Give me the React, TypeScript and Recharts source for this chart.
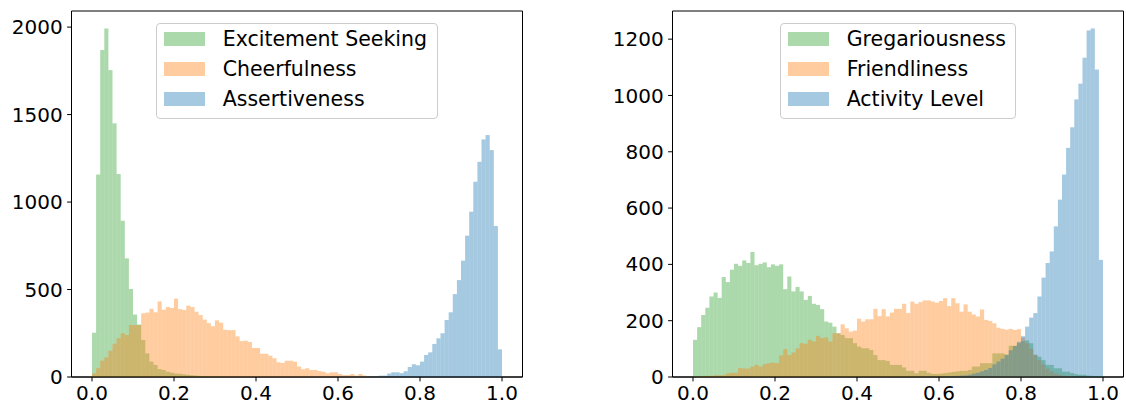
import { BarChart, Bar, XAxis, YAxis, ReferenceArea } from "recharts";

// ================= DATA =================
// 100 equal bins between 0 and 1 (bin centres)
const bins = Array.from({ length: 100 }, (_, i) => +((i + 0.5) / 100).toFixed(3));
const xTicks = [0, 0.2, 0.4, 0.6, 0.8, 1.0];
const leftYTicks = [0, 500, 1000, 1500, 2000];
const rightYTicks = [0, 200, 400, 600, 800, 1000, 1200];

const excitementSeeking = [
  253, 1157, 1869, 1992, 1754, 1450, 1160, 893, 678, 503,
  357, 300, 211, 135, 88, 69, 45, 40, 30, 25,
  20, 18, 15, 12, 10, 8, 6, 5, 4, 3,
  2, 2, 1, 1, 1, 0, 1, 0, 0, 0,
  0, 0, 0, 0, 0, 0, 0, 0, 0, 0,
  0, 0, 0, 0, 0, 0, 0, 0, 0, 0,
  0, 0, 0, 0, 0, 0, 0, 0, 0, 0,
  0, 0, 0, 0, 0, 0, 0, 0, 0, 0,
  0, 0, 0, 0, 0, 0, 0, 0, 0, 0,
  0, 0, 0, 0, 0, 0, 0, 0, 0, 0,
];

const cheerfulness = [
  20, 50, 93, 112, 150, 190, 222, 250, 240, 297,
  297, 297, 364, 368, 390, 370, 432, 385, 400, 395,
  448, 388, 383, 408, 400, 373, 354, 328, 308, 290,
  324, 310, 270, 268, 268, 232, 205, 208, 200, 166,
  166, 133, 133, 122, 107, 84, 80, 93, 93, 88,
  60, 44, 50, 40, 40, 34, 30, 21, 27, 27,
  17, 11, 11, 17, 8, 17, 8, 4, 2, 3,
  2, 1, 2, 1, 1, 0, 1, 0, 0, 0,
  0, 0, 0, 0, 0, 0, 0, 0, 0, 0,
  0, 0, 0, 0, 0, 0, 0, 0, 0, 0,
];

const assertiveness = [
  0, 0, 0, 0, 0, 0, 0, 0, 0, 0,
  0, 0, 0, 0, 0, 0, 0, 0, 0, 0,
  0, 0, 0, 0, 0, 0, 0, 0, 0, 0,
  0, 0, 0, 0, 0, 0, 0, 0, 0, 0,
  0, 0, 0, 0, 0, 0, 0, 0, 0, 0,
  0, 0, 0, 1, 0, 1, 1, 1, 1, 1,
  1, 1, 2, 2, 3, 3, 3, 4, 4, 5,
  8, 8, 20, 27, 27, 22, 33, 57, 73, 67,
  88, 126, 141, 189, 221, 250, 326, 370, 474, 554,
  665, 808, 945, 1116, 1230, 1358, 1383, 1297, 863, 158,
];

const gregariousness = [
  132, 177, 220, 246, 286, 300, 281, 355, 337, 381,
  402, 395, 414, 405, 444, 397, 402, 407, 390, 400,
  395, 400, 312, 357, 304, 320, 304, 274, 288, 260,
  256, 241, 197, 193, 179, 155, 149, 138, 138, 120,
  108, 102, 102, 96, 78, 60, 60, 57, 43, 43,
  43, 34, 22, 22, 13, 22, 22, 15, 11, 11,
  12, 14, 16, 18, 20, 22, 22, 25, 37, 37,
  49, 49, 49, 84, 84, 84, 80, 111, 111, 120,
  128, 130, 120, 78, 72, 60, 43, 43, 31, 31,
  19, 19, 14, 10, 8, 8, 5, 4, 3, 2,
];

const friendliness = [
  2, 2, 3, 4, 4, 6, 6, 6, 13, 15,
  15, 32, 30, 30, 37, 43, 37, 46, 49, 51,
  49, 77, 99, 78, 87, 102, 120, 118, 132, 126,
  146, 138, 141, 126, 155, 156, 187, 173, 161, 165,
  207, 197, 205, 205, 242, 216, 241, 215, 229, 242,
  242, 260, 227, 268, 260, 266, 272, 272, 268, 264,
  270, 280, 252, 280, 262, 232, 258, 232, 222, 215,
  240, 203, 199, 191, 175, 171, 168, 171, 167, 170,
  140, 120, 100, 80, 60, 45, 30, 20, 12, 8,
  5, 3, 2, 1, 1, 0, 0, 0, 0, 0,
];

const activityLevel = [
  0, 0, 0, 0, 0, 0, 0, 0, 0, 0,
  0, 0, 0, 0, 0, 0, 0, 0, 0, 0,
  0, 0, 0, 0, 0, 0, 0, 0, 0, 0,
  0, 0, 0, 0, 0, 0, 0, 0, 0, 0,
  0, 0, 0, 0, 0, 0, 0, 0, 0, 0,
  0, 0, 0, 0, 0, 1, 1, 1, 1, 2,
  2, 2, 3, 3, 4, 5, 6, 8, 12, 15,
  20, 25, 32, 45, 55, 65, 78, 95, 110, 125,
  145, 179, 211, 227, 286, 353, 405, 446, 535, 630,
  719, 814, 887, 986, 1042, 1134, 1231, 1238, 1092, 416,
];

// ================= COLORS =================
const GREEN = "#2ca02c";
const ORANGE = "#ff7f0e";
const BLUE = "#1f77b4";
const ALPHA = 0.4;

interface Series {
  key: string;
  name: string;
  color: string;
  values: number[];
}

const leftSeries: Series[] = [
  { key: "excitement", name: "Excitement Seeking", color: GREEN, values: excitementSeeking },
  { key: "cheerfulness", name: "Cheerfulness", color: ORANGE, values: cheerfulness },
  { key: "assertiveness", name: "Assertiveness", color: BLUE, values: assertiveness },
];

const rightSeries: Series[] = [
  { key: "gregariousness", name: "Gregariousness", color: GREEN, values: gregariousness },
  { key: "friendliness", name: "Friendliness", color: ORANGE, values: friendliness },
  { key: "activity", name: "Activity Level", color: BLUE, values: activityLevel },
];

const FONT = "'DejaVu Sans', sans-serif";
const tickStyle = { fill: "#000", fontSize: 20, fontFamily: FONT };

// recharts floors the bar width to whole pixels; stretch it back to the bin pitch
// eslint-disable-next-line
const HistBar = (props: any) => {
  const { x, y, width, height, fill, fillOpacity } = props;
  if (!height || height <= 0) return null;
  return (
    <rect x={x} y={y} width={width + 0.1} height={height} fill={fill} fillOpacity={fillOpacity} />
  );
};

// ================= LEGEND =================
function HistLegend({ series, left, width }: { series: Series[]; left: number; width: number }) {
  return (
    <div
      style={{
        position: "absolute",
        left,
        top: 22.7,
        width,
        height: 96,
        boxSizing: "border-box",
        border: "1px solid #cccccc",
        borderRadius: 4,
        background: "rgba(255,255,255,0.8)",
        fontFamily: FONT,
        fontSize: 20.5,
        color: "#000",
      }}
    >
      {series.map((s, i) => (
        <div
          key={s.key}
          style={{
            position: "absolute",
            left: 7,
            top: 0.5 + i * 30,
            height: 30,
            display: "flex",
            alignItems: "center",
            whiteSpace: "nowrap",
          }}
        >
          <span
            style={{
              display: "inline-block",
              width: 41,
              height: 14.3,
              background: s.color,
              opacity: ALPHA,
              marginRight: 17.7,
            }}
          />
          <span>{s.name}</span>
        </div>
      ))}
    </div>
  );
}

// ================= PANEL =================
interface PanelProps {
  series: Series[];
  yTicks: number[];
  yMax: number;
  left: number;
  width: number;
  yAxisWidth: number;
  rightMargin: number;
  legendLeft: number;
  legendWidth: number;
}

function HistPanel({
  series,
  yTicks,
  yMax,
  left,
  width,
  yAxisWidth,
  rightMargin,
  legendLeft,
  legendWidth,
}: PanelProps) {
  const data = bins.map((x, i) => {
    const row: Record<string, number> = { x };
    series.forEach((s) => {
      row[s.key] = s.values[i];
    });
    return row;
  });

  return (
    <div style={{ position: "absolute", left, top: 0, width, height: 405 }}>
      <BarChart
        width={width}
        height={405}
        data={data}
        margin={{ top: 11, right: rightMargin, bottom: 0, left: 0 }}
        barCategoryGap={0}
        barGap={0}
      >
        {/* one x axis per series so the bars overlap instead of grouping */}
        {series.map((s, i) => (
          <XAxis
            key={s.key}
            xAxisId={s.key}
            type="number"
            dataKey="x"
            domain={[-0.05, 1.05]}
            ticks={xTicks}
            tickFormatter={(v: number) => v.toFixed(1)}
            hide={i > 0}
            height={i > 0 ? 0 : 28}
            stroke="#000"
            tickSize={4.4}
            tickMargin={4.4}
            tick={tickStyle}
            interval={0}
          />
        ))}
        <YAxis
          type="number"
          domain={[0, yMax]}
          ticks={yTicks}
          width={yAxisWidth}
          stroke="#000"
          tickSize={4.4}
          tickMargin={4.4}
          tick={tickStyle}
          interval={0}
        />
        {series.map((s) => (
          <Bar
            key={s.key}
            xAxisId={s.key}
            dataKey={s.key}
            name={s.name}
            fill={s.color}
            fillOpacity={ALPHA}
            shape={HistBar}
            isAnimationActive={false}
          />
        ))}
        <ReferenceArea
          xAxisId={series[0].key}
          x1={-0.05}
          x2={1.05}
          y1={0}
          y2={yMax}
          fill="none"
          stroke="#000"
          strokeWidth={1}
          ifOverflow="visible"
        />
      </BarChart>
      <HistLegend series={series} left={legendLeft - left} width={legendWidth} />
    </div>
  );
}

export default function App() {
  return (
    <div
      style={{
        position: "absolute",
        left: 0,
        top: 0,
        width: 1126,
        height: 405,
        background: "#fff",
        fontFamily: FONT,
      }}
    >
      <HistPanel
        series={leftSeries}
        yTicks={leftYTicks}
        yMax={2092}
        left={0}
        width={560}
        yAxisWidth={71.5}
        rightMargin={37.5}
        legendLeft={156}
        legendWidth={282}
      />
      <HistPanel
        series={rightSeries}
        yTicks={rightYTicks}
        yMax={1300}
        left={600}
        width={526}
        yAxisWidth={72.5}
        rightMargin={2.5}
        legendLeft={780}
        legendWidth={236}
      />
    </div>
  );
}
